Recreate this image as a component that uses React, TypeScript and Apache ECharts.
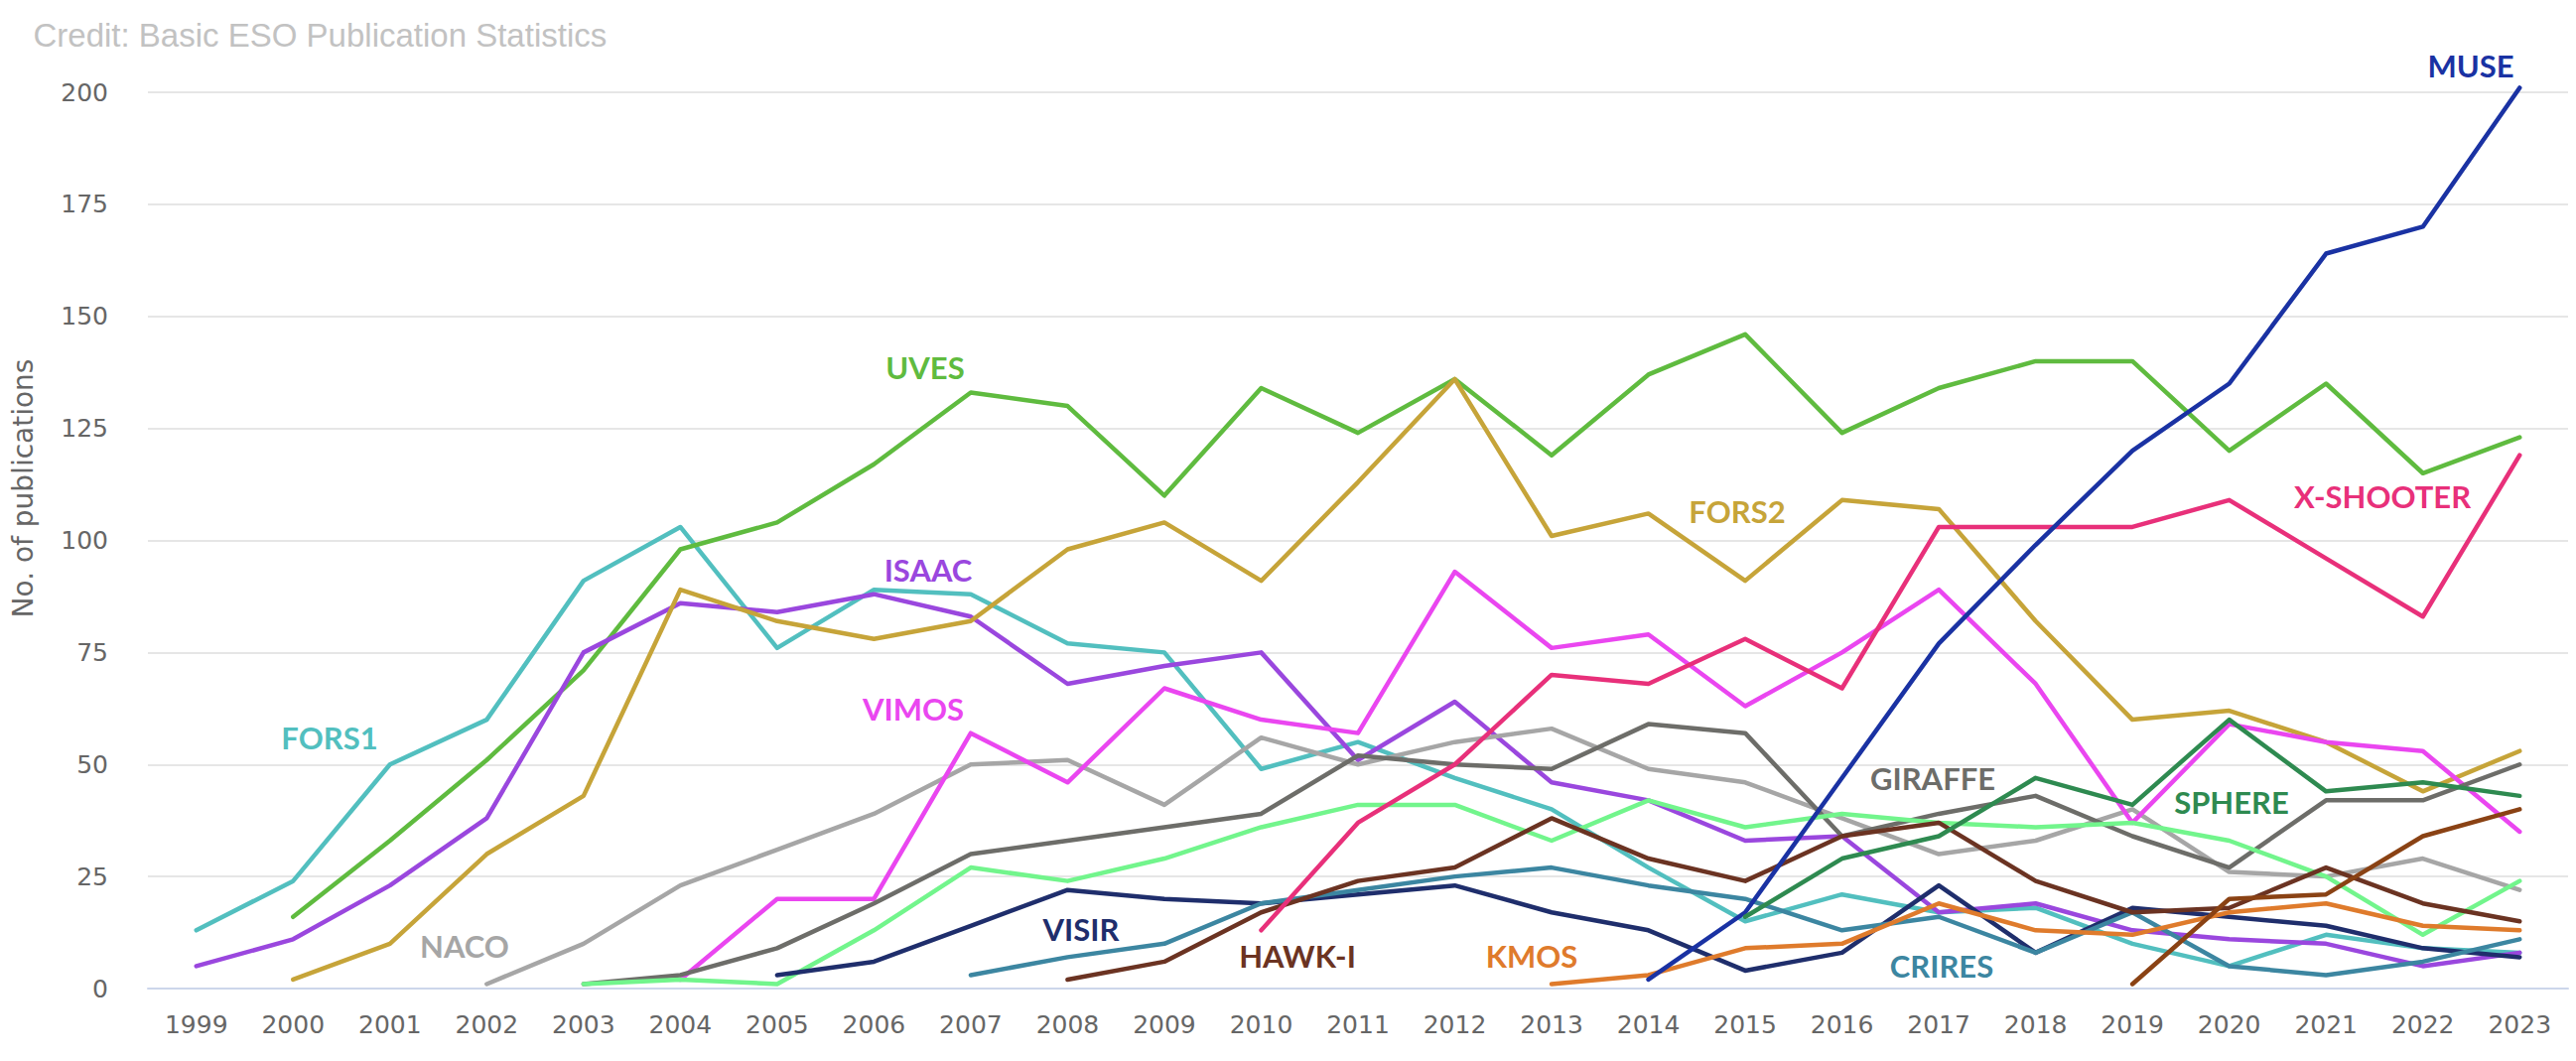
import React, { useEffect, useRef } from "react";
import * as echarts from "echarts";

const years = [
  "1999", "2000", "2001", "2002", "2003", "2004", "2005", "2006", "2007", "2008",
  "2009", "2010", "2011", "2012", "2013", "2014", "2015", "2016", "2017", "2018",
  "2019", "2020", "2021", "2022", "2023",
];

const N = null;
const uves = [N, 16, 33, 51, 71, 98, 104, 117, 133, 130, 110, 134, 124, 136, 119, 137, 146, 124, 134, 140, 140, 120, 135, 115, 123];
const fors1 = [13, 24, 50, 60, 91, 103, 76, 89, 88, 77, 75, 49, 55, 47, 40, 27, 15, 21, 17, 18, 10, 5, 12, 9, 8];
const isaac = [5, 11, 23, 38, 75, 86, 84, 88, 83, 68, 72, 75, 51, 64, 46, 42, 33, 34, 17, 19, 13, 11, 10, 5, 8];
const fors2 = [N, 2, 10, 30, 43, 89, 82, 78, 82, 98, 104, 91, 113, 136, 101, 106, 91, 109, 107, 82, 60, 62, 55, 44, 53];
const naco = [N, N, N, 1, 10, 23, 31, 39, 50, 51, 41, 56, 50, 55, 58, 49, 46, 38, 30, 33, 40, 26, 25, 29, 22];
const vimos = [N, N, N, N, N, 2, 20, 20, 57, 46, 67, 60, 57, 93, 76, 79, 63, 75, 89, 68, 37, 59, 55, 53, 35];
const giraffe = [N, N, N, N, 1, 3, 9, 19, 30, 33, 36, 39, 52, 50, 49, 59, 57, 34, 39, 43, 34, 27, 42, 42, 50];
const sinfoni = [N, N, N, N, 1, 2, 1, 13, 27, 24, 29, 36, 41, 41, 33, 42, 36, 39, 37, 36, 37, 33, 25, 12, 24];
const xshooter = [N, N, N, N, N, N, N, N, N, N, N, 13, 37, 50, 70, 68, 78, 67, 103, 103, 103, 109, 96, 83, 119];
const muse = [N, N, N, N, N, N, N, N, N, N, N, N, N, N, N, 2, 17, 47, 77, 99, 120, 135, 164, 170, 201];
const visir = [N, N, N, N, N, N, 3, 6, 14, 22, 20, 19, 21, 23, 17, 13, 4, 8, 23, 8, 18, 16, 14, 9, 7];
const hawki = [N, N, N, N, N, N, N, N, N, 2, 6, 17, 24, 27, 38, 29, 24, 34, 37, 24, 17, 18, 27, 19, 15];
const kmos = [N, N, N, N, N, N, N, N, N, N, N, N, N, N, 1, 3, 9, 10, 19, 13, 12, 17, 19, 14, 13];
const crires = [N, N, N, N, N, N, N, N, 3, 7, 10, 19, 22, 25, 27, 23, 20, 13, 16, 8, 17, 5, 3, 6, 11];
const sphere = [N, N, N, N, N, N, N, N, N, N, N, N, N, N, N, N, 16, 29, 34, 47, 41, 60, 44, 46, 43];
const espresso = [N, N, N, N, N, N, N, N, N, N, N, N, N, N, N, N, N, N, N, N, 1, 20, 21, 34, 40];

const seriesDefs = [
  { name: "FORS1", data: fors1, color: "#52bfbf" },
  { name: "UVES", data: uves, color: "#5fbb3f" },
  { name: "ISAAC", data: isaac, color: "#9a47de" },
  { name: "FORS2", data: fors2, color: "#c6a439" },
  { name: "NACO", data: naco, color: "#a6a6a6" },
  { name: "VIMOS", data: vimos, color: "#ea46f0" },
  { name: "GIRAFFE", data: giraffe, color: "#6d6d69" },
  { name: "SINFONI", data: sinfoni, color: "#72f58c" },
  { name: "VISIR", data: visir, color: "#1f2e6c" },
  { name: "CRIRES", data: crires, color: "#3c86a1" },
  { name: "HAWK-I", data: hawki, color: "#6b3322" },
  { name: "X-SHOOTER", data: xshooter, color: "#e8307a" },
  { name: "KMOS", data: kmos, color: "#df7b2c" },
  { name: "MUSE", data: muse, color: "#1a32a3" },
  { name: "SPHERE", data: sphere, color: "#2e8a50" },
  { name: "ESPRESSO", data: espresso, color: "#8a4214" },
];

const seriesLabels = [
  { text: "UVES", color: "#5fbb3f", x: 932, y: 370 },
  { text: "ISAAC", color: "#9a47de", x: 935, y: 574 },
  { text: "FORS1", color: "#52bfbf", x: 332, y: 743 },
  { text: "NACO", color: "#a6a6a6", x: 468, y: 953 },
  { text: "VIMOS", color: "#ea46f0", x: 920, y: 714 },
  { text: "VISIR", color: "#1f2e6c", x: 1089, y: 936 },
  { text: "HAWK-I", color: "#6b3322", x: 1307, y: 963 },
  { text: "KMOS", color: "#df7b2c", x: 1543, y: 963 },
  { text: "GIRAFFE", color: "#6d6d69", x: 1947, y: 784 },
  { text: "CRIRES", color: "#3c86a1", x: 1956, y: 973 },
  { text: "SPHERE", color: "#2e8a50", x: 2248, y: 808 },
  { text: "FORS2", color: "#c6a439", x: 1750, y: 515 },
  { text: "MUSE", color: "#1a32a3", x: 2489, y: 66 },
  { text: "X-SHOOTER", color: "#e8307a", x: 2400, y: 500 },
];

export default function App() {
  const ref = useRef<HTMLDivElement>(null);
  useEffect(() => {
    const chart = echarts.init(ref.current as HTMLDivElement, null, { renderer: "svg" });
    chart.setOption({
      animation: false,
      backgroundColor: "#ffffff",
      grid: { left: 149, right: 8, top: 93, bottom: 73 },
      xAxis: {
        type: "category",
        data: years,
        boundaryGap: true,
        axisLine: { lineStyle: { color: "#ccd6eb", width: 2 } },
        axisTick: { show: false },
        axisLabel: { color: "#666666", fontSize: 25, fontFamily: "DejaVu Sans", margin: 24, interval: 0 },
        splitLine: { show: false },
      },
      yAxis: {
        type: "value",
        min: 0,
        max: 200,
        interval: 25,
        axisLine: { show: false },
        axisTick: { show: false },
        axisLabel: { color: "#666666", fontSize: 25, fontFamily: "DejaVu Sans", margin: 40 },
        splitLine: { lineStyle: { color: "#e6e6e6", width: 2 } },
      },
      series: seriesDefs.map((s) => ({
        type: "line",
        name: s.name,
        data: s.data,
        showSymbol: false,
        symbol: "none",
        clip: false,
        silent: true,
        connectNulls: false,
        lineStyle: { color: s.color, width: 4.5, cap: "round", join: "round" },
        itemStyle: { color: s.color },
      })),
      graphic: [
        {
          type: "text",
          x: 33.5,
          y: 35,
          z: 100,
          style: {
            text: "Credit: Basic ESO Publication Statistics",
            fill: "#c2c2c2",
            font: '33px "Liberation Sans"',
            textAlign: "left",
            textVerticalAlign: "middle",
          },
        },
        {
          type: "text",
          x: 23,
          y: 492,
          rotation: Math.PI / 2,
          z: 100,
          style: {
            text: "No. of publications",
            fill: "#666666",
            font: '28px "DejaVu Sans"',
            textAlign: "center",
            textVerticalAlign: "middle",
          },
        },
        ...seriesLabels.map((l) => ({
          type: "text",
          x: l.x,
          y: l.y,
          z: 100,
          style: {
            text: l.text,
            fill: l.color,
            font: 'bold 31px "Lato"',
            textAlign: "center",
            textVerticalAlign: "middle",
          },
        })),
      ],
    });
    return () => chart.dispose();
  }, []);
  return <div ref={ref} style={{ position: "fixed", left: 0, top: 0, width: 2595, height: 1069 }} />;
}
